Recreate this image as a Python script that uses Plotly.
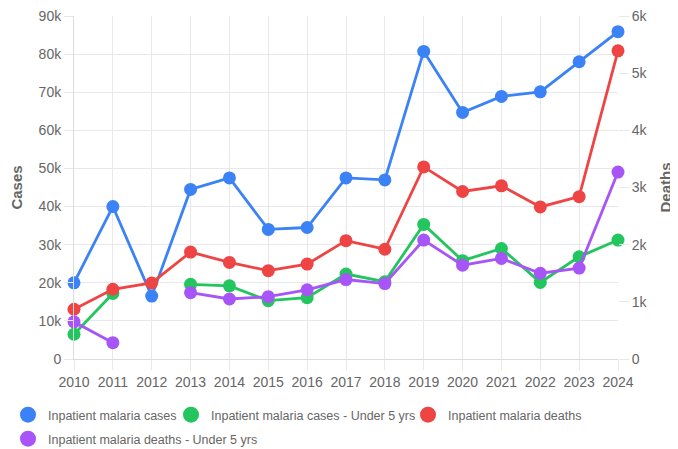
import plotly.graph_objects as go

years = list(range(2010, 2025))
cases = [20000, 40000, 16500, 44500, 47500, 34000, 34500, 47500, 47000, 80700, 64700, 68900, 70100, 78000, 85900]
cases_u5 = [6500, 17200, None, 19600, 19200, 15300, 16100, 22300, 20300, 35300, 25800, 29000, 20100, 26800, 31200]
deaths = [870, 1220, 1330, 1870, 1690, 1545, 1660, 2070, 1920, 3360, 2930, 3030, 2660, 2840, 5390]
deaths_u5 = [650, 285, None, 1160, 1050, 1090, 1210, 1390, 1320, 2080, 1640, 1760, 1500, 1590, 3270]

names = ["Inpatient malaria cases", "Inpatient malaria cases - Under 5 yrs",
         "Inpatient malaria deaths", "Inpatient malaria deaths - Under 5 yrs"]
colors = ["#3b82f6", "#22c55e", "#ef4444", "#a855f7"]
series = [cases, cases_u5, deaths, deaths_u5]
axes = ["y", "y", "y2", "y2"]
legend_ids = ["legend", "legend2", "legend3", "legend4"]

fig = go.Figure()
for name, col, vals, ax in zip(names, colors, series, axes):
    fig.add_trace(go.Scatter(x=years, y=vals, name=name, mode="lines+markers",
                             line=dict(color=col, width=2.8),
                             marker=dict(color=col, size=13),
                             yaxis=ax, cliponaxis=False, showlegend=False,
                             connectgaps=False))
for name, col, lid in zip(names, colors, legend_ids):
    fig.add_trace(go.Scatter(x=[None], y=[None], name=name, mode="markers",
                             marker=dict(color=col, size=18), showlegend=True,
                             legend=lid))

grid = "#e8e8ec"
axline = "#dcdce0"
fam = "Liberation Sans, Arial, sans-serif"
tickfont = dict(family=fam, size=14, color="#666")
legfont = dict(family=fam, size=12.5, color="#666")

W, H = 670, 441  # page body has an 8px margin


def leg(px, py):
    return dict(orientation="h", xref="container", yref="container",
                x=px / W, y=1 - py / H, xanchor="left", yanchor="top", font=legfont,
                itemwidth=30, bgcolor="rgba(0,0,0,0)")


fig.update_layout(
    width=W, height=H,
    margin=dict(l=66, r=60, t=8, b=90),
    paper_bgcolor="white", plot_bgcolor="white",
    font=dict(family=fam, color="#666"),
    xaxis=dict(range=[2010, 2024], tickmode="array", tickvals=years,
               ticktext=[str(y) for y in years], showgrid=True, gridcolor=grid,
               ticks="outside", ticklen=10, tickcolor=grid, tickfont=tickfont,
               showline=True, linecolor=axline, zeroline=False, automargin=False,
               ticklabeloverflow="allow"),
    yaxis=dict(range=[0, 90000], dtick=10000, tickformat="~s", showgrid=True,
               gridcolor=grid, ticks="outside", ticklen=9, tickcolor=grid,
               tickfont=tickfont, showline=True, linecolor=axline, zeroline=False,
               automargin=False, ticklabeloverflow="allow",
               title=dict(text="<b>Cases</b>", font=dict(family=fam, size=15, color="#666"),
                          standoff=13)),
    yaxis2=dict(range=[0, 6000], dtick=1000, tickformat="~s", overlaying="y",
                side="right", showgrid=False, ticks="outside", ticklen=10,
                tickcolor=grid, tickfont=tickfont, showline=False, zeroline=False,
                automargin=False, ticklabeloverflow="allow",
                title=dict(text="<b>Deaths</b>", font=dict(family=fam, size=15, color="#666"),
                           standoff=13)),
    legend=leg(0, 392),
    legend2=leg(163, 392),
    legend3=leg(400, 392),
    legend4=leg(0, 416),
)
fig.write_html("out.html")
